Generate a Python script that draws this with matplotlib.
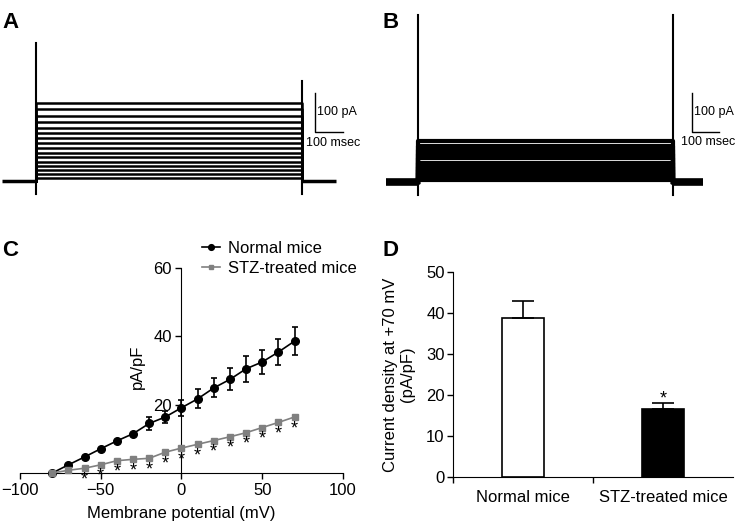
import numpy as np
import matplotlib
matplotlib.use('Agg')
import matplotlib.pyplot as plt

plt.rcParams['font.family'] = ['Liberation Sans', 'DejaVu Sans']
plt.rcParams['font.size'] = 12

# A, B: plateau current of each voltage step (pA)
normal_levels = [200, 185, 167, 151, 136, 123, 110, 97, 85, 72, 62, 49, 38, 28, 18, 8]
stz_levels = [105, 92, 82, 72, 62, 49, 38, 31, 23, 13, 5]
step_ms = 950

# C: current-voltage relation (pA/pF)
voltage = [-80, -70, -60, -50, -40, -30, -20, -10, 0, 10, 20, 30, 40, 50, 60, 70]
normal_iv = [0, 2.4, 4.7, 7.1, 9.4, 11.5, 14.5, 16.4, 19.1, 21.7, 24.9, 27.4, 30.5, 32.5, 35.4, 38.6]
normal_err = [0, 0, 0, 0, 0, 0, 1.8, 1.8, 2.3, 2.8, 2.8, 3.2, 3.8, 3.5, 3.9, 4.2]
stz_iv = [0, 0.8, 1.4, 2.4, 3.6, 4.0, 4.3, 6.1, 7.3, 8.4, 9.5, 10.6, 11.8, 13.3, 14.8, 16.4]
sig_from = -60

# D: current density at +70 mV
groups = ['Normal mice', 'STZ-treated mice']
density70 = [38.9, 16.6]
density70_err = [4.0, 1.4]

W, H = 735, 527
fig = plt.figure(figsize=(W / 100, H / 100), dpi=100)
STAR = r'$\mathregular{*}$'


def px_rect(x0, y0, w, h):
    # pixel box (top-left origin) -> figure fraction
    return [x0 / W, 1 - (y0 + h) / H, w / W, h / H]


def trace_panel(rect, levels, xlim, ylim, base, on_spike, off_spike, lw, base_lw, bar_x, bar_y, txt):
    ax = fig.add_axes(rect)
    ax.set_xlim(*xlim)
    ax.set_ylim(*ylim)
    ax.axis('off')
    ax.plot([base[0], 0], [0, 0], color='black', lw=base_lw, solid_capstyle='butt')
    ax.plot([step_ms, base[1]], [0, 0], color='black', lw=base_lw, solid_capstyle='butt')
    for lev in levels:
        ax.plot([0, 0, step_ms, step_ms], [0, lev, lev, 0], color='black', lw=lw)
    ax.plot([0, 0], on_spike, color='black', lw=1.5)
    ax.plot([step_ms, step_ms], off_spike, color='black', lw=1.5)
    # scale bar
    ax.plot([bar_x, bar_x, bar_x + 100], [bar_y + 100, bar_y, bar_y], color='black', lw=1)
    ax.text(txt[0], txt[1], '100 pA', fontsize=9, va='center', ha='left')
    ax.text(txt[2], txt[3], '100 msec', fontsize=9, va='center', ha='left')
    return ax


trace_panel(px_rect(0, 0, 367, 200), normal_levels, (-129, 1182), (-49, 464),
            (-121, 1071), (-33, 354), (-33, 256), 1.8, 2.5, 996, 126,
            (1005, 177, 965, 97))
trace_panel(px_rect(370, 0, 365, 200), stz_levels, (-179, 1183), (-46, 467),
            (-119, 1063), (-33, 428), (-33, 428), 3.0, 5.5, 1022, 128,
            (1030, 179, 980, 103))

# C
axc = fig.add_axes(px_rect(20, 268, 323, 205))
axc.set_xlim(-100, 100)
axc.set_ylim(0, 60)
axc.spines['left'].set_position(('data', 0))
axc.spines['top'].set_visible(False)
axc.spines['right'].set_visible(False)
axc.set_xticks([-100, -50, 0, 50, 100])
axc.set_yticks([20, 40, 60])
axc.tick_params(length=4, width=1, labelsize=12, pad=3)
axc.errorbar(voltage, normal_iv, yerr=normal_err, fmt='none', ecolor='black',
             elinewidth=1.2, capsize=2.5, capthick=1.2)
axc.plot(voltage, normal_iv, color='black', marker='o', ms=5.5, lw=1.2,
         label='Normal mice', clip_on=False, zorder=3)
axc.plot(voltage, stz_iv, color='#808080', marker='s', ms=4.5, lw=1.2,
         label='STZ-treated mice', clip_on=False, zorder=3)
for v, s in zip(voltage, stz_iv):
    if v >= sig_from:
        axc.text(v, s - 3.1, STAR, ha='center', va='center', fontsize=13, clip_on=False)
axc.set_xlabel('Membrane potential (mV)', fontsize=12, labelpad=6)
axc.text(0.362, 0.517, 'pA/pF', rotation=90, ha='center', va='center',
         transform=axc.transAxes, fontsize=12)
axc.legend(loc='upper left', bbox_to_anchor=(202 / W, 1 - 241 / H),
           bbox_transform=fig.transFigure, frameon=False, handlelength=1.08,
           handletextpad=0.48, labelspacing=0.28, borderpad=0, borderaxespad=0,
           markerscale=0.75, fontsize=12)

# D
axd = fig.add_axes(px_rect(453, 272, 280, 205))
axd.set_xlim(-0.5, 1.5)
axd.set_ylim(0, 50)
axd.spines['top'].set_visible(False)
axd.spines['right'].set_visible(False)
axd.bar([0, 1], density70, width=0.3, color=['white', 'black'], edgecolor='black', lw=1.2,
        yerr=[[0, 0], density70_err], capsize=8,
        error_kw=dict(elinewidth=1.2, capthick=1.2, ecolor='black'))
axd.set_xticks([0, 1])
axd.set_xticklabels(groups)
axd.set_xticks([-0.5, 0.5], minor=True)
axd.tick_params(axis='x', which='major', length=0, pad=9, labelsize=12)
axd.tick_params(axis='x', which='minor', length=4, width=1)
axd.set_yticks([0, 10, 20, 30, 40, 50])
axd.tick_params(axis='y', length=4, width=1, labelsize=12, pad=2)
axd.text(1, density70[1] + density70_err[1] + 1.3, STAR, ha='center', va='center', fontsize=13)
axd.set_ylabel('Current density at +70 mV\n(pA/pF)', fontsize=12, labelpad=8)

# panel letters
for x, y, s in [(2, 12, 'A'), (382, 12, 'B'), (2, 240, 'C'), (382, 240, 'D')]:
    fig.text(x / W, 1 - y / H, s, fontsize=16, fontweight='bold', va='top', ha='left')

fig.savefig('out.png', dpi=100)
